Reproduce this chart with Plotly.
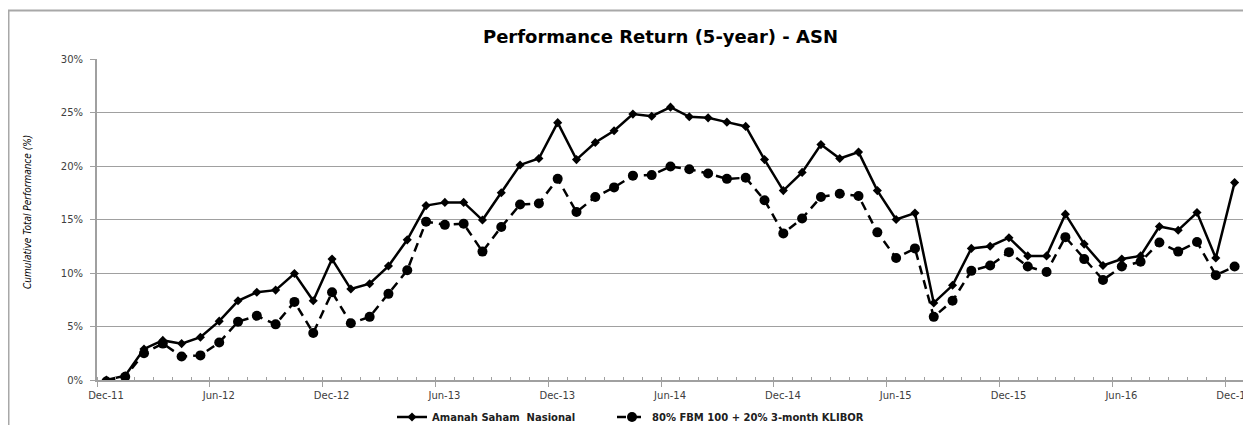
import plotly.graph_objects as go
import pandas as pd

# Monthly categories Dec-11 .. Dec-16 (61 months)
months = pd.date_range("2011-12-01", "2016-12-01", freq="MS").strftime("%b-%y").tolist()

asn = [0.0, 0.4, 2.9, 3.7, 3.4, 4.0, 5.5, 7.4, 8.2, 8.4,
       9.95, 7.4, 11.3, 8.5, 9.0, 10.65, 13.1, 16.3, 16.6, 16.6,
       14.95, 17.5, 20.1, 20.7, 24.05, 20.6, 22.2, 23.3, 24.85, 24.65,
       25.5, 24.6, 24.5, 24.1, 23.7, 20.6, 17.7, 19.4, 22.0, 20.7,
       21.3, 17.7, 15.0, 15.6, 7.2, 8.85, 12.3, 12.5, 13.3, 11.6,
       11.6, 15.5, 12.7, 10.7, 11.3, 11.6, 14.35, 14.0, 15.65, 11.4,
       18.45]

bench = [-0.15, 0.3, 2.5, 3.4, 2.2, 2.3, 3.5, 5.45, 6.0, 5.2,
         7.3, 4.4, 8.2, 5.3, 5.9, 8.05, 10.25, 14.8, 14.5, 14.6,
         12.0, 14.3, 16.4, 16.5, 18.8, 15.7, 17.1, 18.0, 19.1, 19.15,
         19.95, 19.7, 19.3, 18.8, 18.9, 16.8, 13.7, 15.1, 17.1, 17.4,
         17.2, 13.8, 11.4, 12.3, 5.9, 7.4, 10.2, 10.7, 11.95, 10.6,
         10.1, 13.35, 11.3, 9.35, 10.6, 11.05, 12.85, 12.0, 12.9, 9.8,
         10.6]

series_names = ["Amanah Saham  Nasional", "80% FBM 100 + 20% 3-month KLIBOR"]
tick_labels = months[::6]
y_ticks = [0, 5, 10, 15, 20, 25, 30]

idx = list(range(len(months)))
asn_frac = [v / 100 for v in asn]
bench_frac = [v / 100 for v in bench]

fig = go.Figure()
fig.add_trace(go.Scatter(
    x=idx, y=asn_frac, name=series_names[0], mode="lines+markers",
    line=dict(color="black", width=2.5),
    marker=dict(symbol="diamond", size=7, color="black"),
    customdata=months, hovertemplate="%{customdata}: %{y:.1%}<extra></extra>",
    legend="legend",
))
fig.add_trace(go.Scatter(
    x=idx, y=bench_frac, name=series_names[1], mode="lines+markers",
    line=dict(color="black", width=2.5, dash="9px,6px"),
    marker=dict(symbol="circle", size=10, color="black"),
    customdata=months, hovertemplate="%{customdata}: %{y:.1%}<extra></extra>",
    legend="legend2",
))

grid = "#a0a0a0"
O = 8  # page body margin offset
W, H = 1251 - O, 425 - O
L, T = 97 - O, 59 - O
R = W - (1244 - O)
B = H - (380 - O)
pw = W - L - R
ph = H - T - B

def px_x(p):  # page pixel -> paper x
    return (p - O - L) / pw

def px_y(p):  # page pixel -> paper y
    return (H - B - (p - O)) / ph

legend_font = dict(size=10, color="#202020", family="DejaVu Sans", weight="bold")

fig.update_layout(
    width=W, height=H,
    margin=dict(l=L, r=R, t=T, b=B, autoexpand=False),
    paper_bgcolor="white", plot_bgcolor="white",
    font=dict(family="DejaVu Sans", color="#404040", size=10),
    title=dict(text="<b>Performance Return (5-year) - ASN</b>",
               font=dict(family="DejaVu Sans", size=18, color="black"),
               x=px_x(660.5), xref="paper", xanchor="center",
               y=1 - (37 - O) / H, yref="container", yanchor="middle"),
    xaxis=dict(
        range=[-0.5, len(months) - 0.5],
        tickmode="array",
        tickvals=[i - 0.5 for i in idx[::6]],
        ticktext=tick_labels,
        ticklabelshift=9,
        ticklabeloverflow="allow",
        ticks="outside", ticklen=5, tickcolor=grid, tickwidth=1,
        minor=dict(tick0=-0.5, dtick=1, ticks="inside", ticklen=3, tickcolor=grid, tickwidth=1),
        showgrid=False, zeroline=False,
        showline=True, linecolor=grid, linewidth=1.5,
        tickfont=dict(size=10, color="#404040"),
        fixedrange=True,
    ),
    yaxis=dict(
        range=[0, 0.30],
        tickvals=[v / 100 for v in y_ticks],
        tickformat=".0%",
        ticks="outside", ticklen=5, tickcolor=grid,
        ticklabelstandoff=5,
        showgrid=True, gridcolor=grid, gridwidth=1,
        zeroline=False,
        showline=True, linecolor=grid, linewidth=2,
        tickfont=dict(size=10, color="#404040"),
        fixedrange=True,
    ),
    showlegend=True,
    legend=dict(
        orientation="h", x=px_x(392), xanchor="left",
        y=px_y(417), yanchor="middle",
        font=legend_font, bgcolor="rgba(0,0,0,0)", itemwidth=30,
    ),
    legend2=dict(
        orientation="h", x=px_x(612), xanchor="left",
        y=px_y(417), yanchor="middle",
        font=legend_font, bgcolor="rgba(0,0,0,0)", itemwidth=30,
    ),
    annotations=[dict(
        text="<i>Cumulative Total Performance (%)</i>",
        x=px_x(27), y=px_y(212), xref="paper", yref="paper",
        textangle=-90, showarrow=False,
        font=dict(family="Liberation Sans Narrow, DejaVu Sans Condensed, sans-serif", size=10, color="black"),
        xanchor="center", yanchor="middle",
    )],
    shapes=[dict(
        type="rect", xref="paper", yref="paper",
        x0=px_x(8.5), x1=px_x(1270), y0=px_y(450), y1=px_y(10.5),
        line=dict(color="#a8a8a8", width=2), fillcolor="rgba(0,0,0,0)",
        layer="below",
    )],
)

fig.write_html("out.html")
